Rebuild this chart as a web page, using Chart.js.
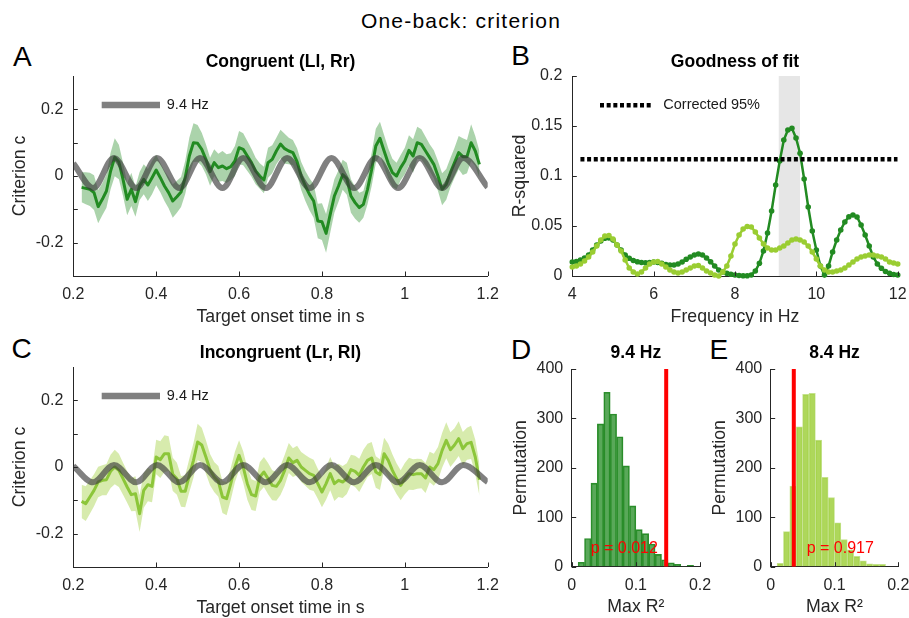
<!DOCTYPE html>
<html>
<head>
<meta charset="utf-8">
<title>One-back: criterion</title>
<script src="https://cdn.jsdelivr.net/npm/chart.js@4.4.1/dist/chart.umd.min.js"></script>
<style>
  html, body { margin:0; padding:0; background:#ffffff; width:909px; height:618px; overflow:hidden; position:relative; }
  canvas { position:absolute; }
  .txt { position:absolute; font-family:"Liberation Sans", Arial, Helvetica, sans-serif; color:#000; white-space:nowrap; }
  .letter { font-size:28px; line-height:28px; }
</style>
</head>
<body>
<div class="txt" style="left:0;top:9.6px;width:922px;text-align:center;font-size:21px;line-height:21px;letter-spacing:1.2px;">One-back: criterion</div>
<div class="txt letter" style="left:13px;top:43px;">A</div>
<div class="txt letter" style="left:511.3px;top:42.3px;">B</div>
<div class="txt letter" style="left:11.5px;top:334.6px;">C</div>
<div class="txt letter" style="left:511px;top:335.6px;">D</div>
<div class="txt letter" style="left:709.5px;top:335.6px;">E</div>
<canvas id="cA" width="505" height="300" style="left:0;top:30px;"></canvas>
<canvas id="cB" width="409" height="300" style="left:500px;top:30px;"></canvas>
<canvas id="cC" width="505" height="300" style="left:0;top:321px;"></canvas>
<canvas id="cD" width="215" height="296" style="left:500px;top:322px;"></canvas>
<canvas id="cE" width="216" height="296" style="left:705px;top:322px;"></canvas>
<script>
// ================= DATA =================
// Panels A / C: time course of criterion c
const timeSec = [
  0.22,0.23,0.24,0.25,0.26,0.27,0.28,0.29,0.30,0.31,
  0.32,0.33,0.34,0.35,0.36,0.37,0.38,0.39,0.40,0.41,
  0.42,0.43,0.44,0.45,0.46,0.47,0.48,0.49,0.50,0.51,
  0.52,0.53,0.54,0.55,0.56,0.57,0.58,0.59,0.60,0.61,
  0.62,0.63,0.64,0.65,0.66,0.67,0.68,0.69,0.70,0.71,
  0.72,0.73,0.74,0.75,0.76,0.77,0.78,0.79,0.80,0.81,
  0.82,0.83,0.84,0.85,0.86,0.87,0.88,0.89,0.90,0.91,
  0.92,0.93,0.94,0.95,0.96,0.97,0.98,0.99,1.00,1.01,
  1.02,1.03,1.04,1.05,1.06,1.07,1.08,1.09,1.10,1.11,
  1.12,1.13,1.14,1.15,1.16,1.17,1.18
];
const critCongruent = [
  -0.034,-0.037,-0.040,-0.050,-0.092,-0.070,-0.045,0.015,0.056,0.042,
  -0.010,-0.070,-0.040,-0.077,-0.030,-0.010,-0.027,-0.005,0.018,-0.005,
  -0.030,-0.050,-0.075,-0.062,-0.048,-0.005,0.060,0.100,0.098,0.080,
  0.050,0.013,0.040,0.025,0.030,0.022,0.028,0.045,0.085,0.080,
  0.060,0.040,0.015,0.000,-0.012,0.040,0.050,0.075,0.096,0.082,
  0.075,0.070,0.043,0.000,-0.030,-0.055,-0.075,-0.135,-0.137,-0.172,
  -0.115,-0.060,-0.030,0.004,-0.008,-0.060,-0.080,-0.095,-0.085,-0.040,
  0.020,0.090,0.113,0.075,0.038,0.010,0.000,0.025,0.045,0.077,
  0.060,0.100,0.095,0.075,0.055,0.035,0.000,-0.040,-0.025,0.010,
  0.040,0.070,0.058,0.058,0.100,0.075,0.035
];
const semCongruent = [
  0.045,0.048,0.050,0.052,0.050,0.048,0.050,0.055,0.057,0.052,
  0.050,0.048,0.050,0.045,0.042,0.045,0.048,0.050,0.046,0.044,
  0.045,0.047,0.050,0.048,0.045,0.050,0.055,0.058,0.055,0.050,
  0.045,0.042,0.040,0.042,0.045,0.043,0.040,0.045,0.050,0.048,
  0.045,0.042,0.040,0.038,0.040,0.045,0.042,0.040,0.043,0.045,
  0.040,0.038,0.040,0.042,0.045,0.048,0.050,0.052,0.055,0.058,
  0.055,0.050,0.047,0.045,0.048,0.050,0.048,0.045,0.040,0.045,
  0.050,0.052,0.050,0.048,0.045,0.042,0.040,0.038,0.040,0.045,
  0.050,0.048,0.045,0.043,0.040,0.042,0.045,0.048,0.046,0.044,
  0.045,0.050,0.055,0.050,0.055,0.045,0.040
];
const critIncongruent = [
  -0.103,-0.110,-0.090,-0.070,-0.045,-0.040,-0.038,-0.013,0.000,-0.010,
  -0.035,-0.060,-0.083,-0.080,-0.140,-0.070,-0.053,-0.058,0.030,0.022,
  0.040,0.040,-0.022,-0.035,-0.073,-0.073,-0.025,0.020,0.075,0.066,
  0.030,-0.008,-0.030,-0.043,-0.090,-0.095,-0.050,0.000,0.035,0.000,
  -0.050,-0.083,-0.087,-0.030,-0.015,-0.035,-0.055,-0.058,-0.040,-0.010,
  0.027,0.013,0.020,0.000,-0.010,-0.020,-0.025,-0.050,-0.075,-0.050,
  -0.020,-0.050,-0.040,-0.045,-0.035,-0.008,-0.013,-0.025,0.000,0.020,
  0.027,-0.015,-0.023,0.040,0.020,-0.010,-0.035,-0.055,-0.035,-0.020,
  -0.023,-0.020,-0.020,-0.033,0.000,-0.008,0.010,0.050,0.080,0.052,
  0.066,0.085,0.055,0.070,0.074,0.030,-0.038
];
const semIncongruent = [
  0.050,0.052,0.050,0.048,0.046,0.045,0.047,0.050,0.052,0.050,
  0.048,0.047,0.050,0.052,0.055,0.052,0.050,0.048,0.052,0.055,
  0.055,0.052,0.050,0.048,0.046,0.048,0.050,0.052,0.055,0.052,
  0.050,0.047,0.045,0.046,0.048,0.050,0.048,0.046,0.045,0.047,
  0.048,0.046,0.045,0.044,0.045,0.047,0.045,0.043,0.044,0.046,
  0.045,0.043,0.044,0.045,0.046,0.048,0.047,0.045,0.046,0.048,
  0.050,0.052,0.050,0.048,0.046,0.045,0.047,0.050,0.052,0.050,
  0.048,0.047,0.046,0.048,0.050,0.048,0.046,0.045,0.047,0.048,
  0.046,0.045,0.044,0.045,0.046,0.048,0.050,0.052,0.054,0.052,
  0.050,0.052,0.050,0.048,0.050,0.052,0.048
];
// 9.4 Hz fitted curve: turning points
const fitTime = [0.200,0.248,0.298,0.352,0.402,0.456,0.506,0.560,0.610,0.665,
                 0.716,0.771,0.823,0.878,0.930,0.984,1.036,1.090,1.141,1.200];
const fitCongruent = [0.038,-0.036,0.054,-0.036,0.054,-0.036,0.054,-0.036,0.054,-0.036,
                      0.054,-0.036,0.054,-0.036,0.054,-0.036,0.054,-0.036,0.054,-0.034];
const fitIncongruent = [0.003,-0.046,0.006,-0.046,0.006,-0.046,0.006,-0.046,0.006,-0.046,
                        0.006,-0.046,0.006,-0.046,0.006,-0.046,0.006,-0.046,0.006,-0.045];

// Panel B: goodness of fit
const freqHz = [
  4.0,4.1,4.2,4.3,4.4,4.5,4.6,4.7,4.8,4.9,
  5.0,5.1,5.2,5.3,5.4,5.5,5.6,5.7,5.8,5.9,
  6.0,6.1,6.2,6.3,6.4,6.5,6.6,6.7,6.8,6.9,
  7.0,7.1,7.2,7.3,7.4,7.5,7.6,7.7,7.8,7.9,
  8.0,8.1,8.2,8.3,8.4,8.5,8.6,8.7,8.8,8.9,
  9.0,9.1,9.2,9.3,9.4,9.5,9.6,9.7,9.8,9.9,
  10.0,10.1,10.2,10.3,10.4,10.5,10.6,10.7,10.8,10.9,
  11.0,11.1,11.2,11.3,11.4,11.5,11.6,11.7,11.8,11.9,
  12.0
];
const rsqCongruent = [
  0.0140,0.0145,0.0160,0.0180,0.0210,0.0260,0.0310,0.0350,0.0377,0.0380,
  0.0360,0.0310,0.0260,0.0210,0.0177,0.0155,0.0143,0.0135,0.0133,0.0135,
  0.0140,0.0135,0.0127,0.0115,0.0110,0.0110,0.0120,0.0140,0.0167,0.0190,
  0.0210,0.0220,0.0210,0.0180,0.0143,0.0100,0.0060,0.0040,0.0027,0.0018,
  0.0010,0.0005,0.0002,0.0003,0.0010,0.0050,0.0127,0.0250,0.0430,0.0650,
  0.0910,0.1150,0.1360,0.1460,0.1477,0.1380,0.1227,0.0970,0.0690,0.0450,
  0.0260,0.0100,0.0010,0.0100,0.0240,0.0360,0.0460,0.0540,0.0593,0.0610,
  0.0590,0.0510,0.0410,0.0300,0.0190,0.0120,0.0077,0.0045,0.0027,0.0015,
  0.0010
];
const rsqIncongruent = [
  0.0090,0.0100,0.0120,0.0150,0.0190,0.0240,0.0300,0.0360,0.0400,0.0405,
  0.0370,0.0310,0.0250,0.0160,0.0080,0.0040,0.0020,0.0040,0.0080,0.0120,
  0.0140,0.0145,0.0120,0.0090,0.0060,0.0040,0.0030,0.0040,0.0060,0.0080,
  0.0100,0.0105,0.0080,0.0050,0.0030,0.0010,0.0000,0.0040,0.0100,0.0200,
  0.0320,0.0410,0.0470,0.0495,0.0490,0.0440,0.0380,0.0320,0.0280,0.0260,
  0.0260,0.0280,0.0300,0.0330,0.0360,0.0370,0.0360,0.0340,0.0300,0.0240,
  0.0170,0.0100,0.0060,0.0040,0.0040,0.0050,0.0060,0.0080,0.0110,0.0140,
  0.0170,0.0190,0.0200,0.0210,0.0210,0.0200,0.0190,0.0170,0.0140,0.0130,
  0.0120
];
const thresholdFreq = [4.2, 12.0];
const thresholdR2 = [0.1167, 0.1167];
const shadeFreq = [9.07, 9.6];
const shadeTop = [0.2, 0.2];

// Panels D / E: permutation histograms
const binCentersD = [0.015,0.025,0.035,0.045,0.055,0.065,0.075,0.085,0.095,0.105,
                     0.115,0.125,0.135,0.145,0.155,0.165,0.175,0.185];
const countsD = [9,57,169,289,353,309,263,204,123,75,67,46,25,14,8,5,1,3];
const binCentersE = [0.015,0.025,0.035,0.045,0.055,0.065,0.075,0.085,0.095,0.105,
                     0.115,0.125,0.135,0.145,0.155,0.165,0.175];
const countsE = [7,71,163,283,349,351,256,181,140,89,55,34,21,12,6,5,5];
const observedD = 0.1473;
const observedE = 0.0362;

// Tick values and labels
const timeTicks = [0.2,0.4,0.6,0.8,1.0,1.2];
const timeTickLabels = ['0.2','0.4','0.6','0.8','1','1.2'];
const critTicks = [-0.2,-0.1,0,0.1,0.2];
const critTickLabels = ['-0.2','','0','','0.2'];
const freqTicks = [4,6,8,10,12];
const freqTickLabels = ['4','6','8','10','12'];
const rsqTicks = [0,0.05,0.1,0.15,0.2];
const rsqTickLabels = ['0','0.05','0.1','0.15','0.2'];
const maxR2Ticks = [0,0.1,0.2];
const maxR2TickLabels = ['0','0.1','0.2'];
const permTicks = [0,100,200,300,400];
const permTickLabels = ['0','100','200','300','400'];

// ================= STYLE / HELPERS =================
const FONT = '"Liberation Sans", Arial, Helvetica, sans-serif';
const AXIS = '#262626';
const DARKGREEN = '#228b22';
const LIGHTGREEN = '#9acd32';
const LINEGREEN_C = '#8cc63a';
const FITGRAY = 'rgba(60,60,60,0.65)';

Chart.defaults.font.family = FONT;
Chart.defaults.color = AXIS;
Chart.defaults.animation = false;
Chart.defaults.responsive = false;
Chart.defaults.maintainAspectRatio = false;
Chart.defaults.events = [];
Chart.defaults.plugins.legend.display = false;
Chart.defaults.plugins.tooltip.enabled = false;

function makeAxis(o) {
  return {
    type: 'linear', min: o.min, max: o.max, bounds: 'data', offset: false,
    grid: { display: true, drawOnChartArea: false, drawTicks: false, offset: false },
    border: { display: true, color: AXIS, width: 1 },
    ticks: { font: { size: 16 }, color: AXIS, padding: o.labelPad, autoSkip: false,
             maxRotation: 0, minRotation: 0, callback: (v, i) => o.labels[i] },
    title: { display: true, text: o.title, color: AXIS, font: { size: 17.7 },
             padding: o.horiz ? { top: 0, bottom: o.titlePad } : { top: o.titlePad, bottom: 0 } },
    afterBuildTicks: s => { s.ticks = o.ticks.map(v => ({ value: v })); },
    afterFit: s => {
      if (o.horiz) s.height = o.size; else s.width = o.size;
      s.paddingLeft = 0; s.paddingRight = 0; s.paddingTop = 0; s.paddingBottom = 0;
    }
  };
}

function panelTitle(text, pb) {
  return { display: true, text: text, fullSize: false, color: '#000',
           font: { size: 17.5, weight: 'bold' }, padding: { top: 0, bottom: pb } };
}

const inwardTicks = {
  id: 'inwardTicks',
  afterDraw(chart) {
    const { ctx, chartArea: a, scales: { x, y } } = chart;
    ctx.save();
    ctx.strokeStyle = AXIS; ctx.lineWidth = 1;
    ctx.beginPath();
    x.ticks.forEach(t => { const p = Math.round(x.getPixelForValue(t.value)) + 0.5; ctx.moveTo(p, a.bottom); ctx.lineTo(p, a.bottom - 4.5); });
    y.ticks.forEach(t => { const p = Math.round(y.getPixelForValue(t.value)) + 0.5; ctx.moveTo(a.left, p); ctx.lineTo(a.left + 4.5, p); });
    ctx.stroke();
    ctx.restore();
  }
};

function legendPlugin(items) {
  return {
    id: 'innerLegend',
    afterDatasetsDraw(chart) {
      const { ctx, chartArea: a } = chart;
      items.forEach(it => {
        ctx.save();
        ctx.strokeStyle = it.color; ctx.lineWidth = it.width; ctx.lineCap = 'butt';
        ctx.setLineDash(it.dash || []);
        ctx.beginPath();
        ctx.moveTo(a.left + it.x1, a.top + it.y);
        ctx.lineTo(a.left + it.x2, a.top + it.y);
        ctx.stroke();
        ctx.setLineDash([]);
        ctx.fillStyle = '#1a1a1a'; ctx.font = '14.5px ' + FONT;
        ctx.textAlign = 'left'; ctx.textBaseline = 'middle';
        ctx.fillText(it.text, a.left + it.tx, a.top + it.ty);
        ctx.restore();
      });
    }
  };
}

function pValuePlugin(text, xv, yv) {
  return {
    id: 'pValue',
    afterDatasetsDraw(chart) {
      const { ctx, scales: { x, y } } = chart;
      ctx.save();
      ctx.fillStyle = '#ff0000'; ctx.font = '16px ' + FONT;
      ctx.textAlign = 'left'; ctx.textBaseline = 'alphabetic';
      ctx.fillText(text, x.getPixelForValue(xv), y.getPixelForValue(yv));
      ctx.restore();
    }
  };
}

function pts(xs, ys) { return ys.map((v, i) => ({ x: xs[i], y: v })); }

// ================= PANELS A / C =================
function timeChart(id, title, mean, sem, fit, lineColor, bandColor) {
  const upper = mean.map((m, i) => ({ x: timeSec[i], y: m + sem[i] }));
  const lower = mean.map((m, i) => ({ x: timeSec[i], y: m - sem[i] }));
  return new Chart(document.getElementById(id), {
    type: 'line',
    data: { datasets: [
      { data: upper, borderWidth: 0, pointRadius: 0, backgroundColor: bandColor, fill: '+1', order: 4 },
      { data: lower, borderWidth: 0, pointRadius: 0, fill: false, order: 4 },
      { data: pts(timeSec, mean), borderColor: lineColor, borderWidth: 3, pointRadius: 0, fill: false,
        borderJoinStyle: 'round', order: 2 },
      { data: pts(fitTime, fit), borderColor: FITGRAY, borderWidth: 6, pointRadius: 0, fill: false,
        cubicInterpolationMode: 'monotone', order: 1 }
    ]},
    options: {
      layout: { padding: { top: 21.7, left: 0, right: 17.3, bottom: 0 } },
      plugins: { title: panelTitle(title, 3.3) },
      scales: {
        x: makeAxis({ min: 0.2, max: 1.2, ticks: timeTicks, labels: timeTickLabels, size: 54,
                      title: 'Target onset time in s', titlePad: 2.4, labelPad: 9, horiz: true }),
        y: makeAxis({ min: -0.3, max: 0.3, ticks: critTicks, labels: critTickLabels, size: 73.3,
                      title: 'Criterion c', titlePad: 9.4, labelPad: 10, horiz: false })
      }
    },
    plugins: [inwardTicks, legendPlugin([
      { x1: 28.4, x2: 86.7, y: 29, tx: 93.5, ty: 29.2, color: FITGRAY, width: 6.5, text: '9.4 Hz' }
    ])]
  });
}

timeChart('cA', 'Congruent (Ll, Rr)', critCongruent, semCongruent, fitCongruent, DARKGREEN, 'rgba(34,139,34,0.38)');
timeChart('cC', 'Incongruent (Lr, Rl)', critIncongruent, semIncongruent, fitIncongruent, LINEGREEN_C, 'rgba(154,205,50,0.4)');

// ================= PANEL B =================
new Chart(document.getElementById('cB'), {
  type: 'line',
  data: { datasets: [
    { data: pts(shadeFreq, shadeTop), borderWidth: 0, pointRadius: 0, backgroundColor: '#e6e6e6', fill: 'origin', order: 9 },
    { data: pts(freqHz, rsqCongruent), borderColor: DARKGREEN, backgroundColor: DARKGREEN, borderWidth: 2.5,
      pointRadius: 2.8, pointBorderWidth: 0, pointBackgroundColor: DARKGREEN, fill: false, clip: 6, order: 3 },
    { data: pts(freqHz, rsqIncongruent), borderColor: LIGHTGREEN, backgroundColor: LIGHTGREEN, borderWidth: 2.5,
      pointRadius: 2.8, pointBorderWidth: 0, pointBackgroundColor: LIGHTGREEN, fill: false, clip: 6, order: 2 },
    { data: pts(thresholdFreq, thresholdR2), borderColor: '#000', borderWidth: 4.5, borderDash: [4, 2.67],
      borderCapStyle: 'butt', pointRadius: 0, fill: false, order: 1 }
  ]},
  options: {
    layout: { padding: { top: 21.7, left: 0, right: 11.3, bottom: 0 } },
    plugins: { title: panelTitle('Goodness of fit', 3.3) },
    scales: {
      x: makeAxis({ min: 4, max: 12, ticks: freqTicks, labels: freqTickLabels, size: 54,
                    title: 'Frequency in Hz', titlePad: 2.4, labelPad: 9, horiz: true }),
      y: makeAxis({ min: 0, max: 0.2, ticks: rsqTicks, labels: rsqTickLabels, size: 72.3,
                    title: 'R-squared', titlePad: 9.4, labelPad: 10, horiz: false })
    }
  },
  plugins: [inwardTicks, legendPlugin([
    { x1: 27.7, x2: 78.7, y: 29.3, tx: 91, ty: 29, color: '#000', width: 4.5, dash: [4, 2.67], text: 'Corrected 95%' }
  ])]
});

// ================= PANELS D / E =================
function histChart(id, title, centers, counts, observed, fillColor, edgeColor, pText, pX, yWidth, yTitlePad, rightPad) {
  return new Chart(document.getElementById(id), {
    type: 'bar',
    data: { datasets: [
      { type: 'bar', data: pts(centers, counts), backgroundColor: fillColor, borderColor: edgeColor,
        borderWidth: 1, barPercentage: 1, categoryPercentage: 1, order: 2 },
      { type: 'line', data: [{ x: observed, y: 0 }, { x: observed, y: 400 }], borderColor: '#ff0000',
        borderWidth: 4, pointRadius: 0, fill: false, order: 1 }
    ]},
    options: {
      layout: { padding: { top: 20.7, left: 0, right: rightPad, bottom: 0 } },
      plugins: { title: panelTitle(title, 5.3) },
      scales: {
        x: makeAxis({ min: 0, max: 0.2, ticks: maxR2Ticks, labels: maxR2TickLabels, size: 51.3,
                      title: 'Max R\u00B2', titlePad: 0.2, labelPad: 9, horiz: true }),
        y: makeAxis({ min: 0, max: 400, ticks: permTicks, labels: permTickLabels, size: yWidth,
                      title: 'Permutation', titlePad: yTitlePad, labelPad: 8.5, horiz: false })
      }
    },
    plugins: [inwardTicks, pValuePlugin(pText, pX, 27)]
  });
}

histChart('cD', '9.4 Hz', binCentersD, countsD, observedD, 'rgba(34,139,34,0.75)', '#2f8f2f',
          'p = 0.012', 0.0296, 71.7, 10.9, 15);
histChart('cE', '8.4 Hz', binCentersE, countsE, observedE, 'rgba(154,205,50,0.8)', '#c4e28c',
          'p = 0.917', 0.0564, 65.7, 4.2, 22.7);
</script>
</body>
</html>
